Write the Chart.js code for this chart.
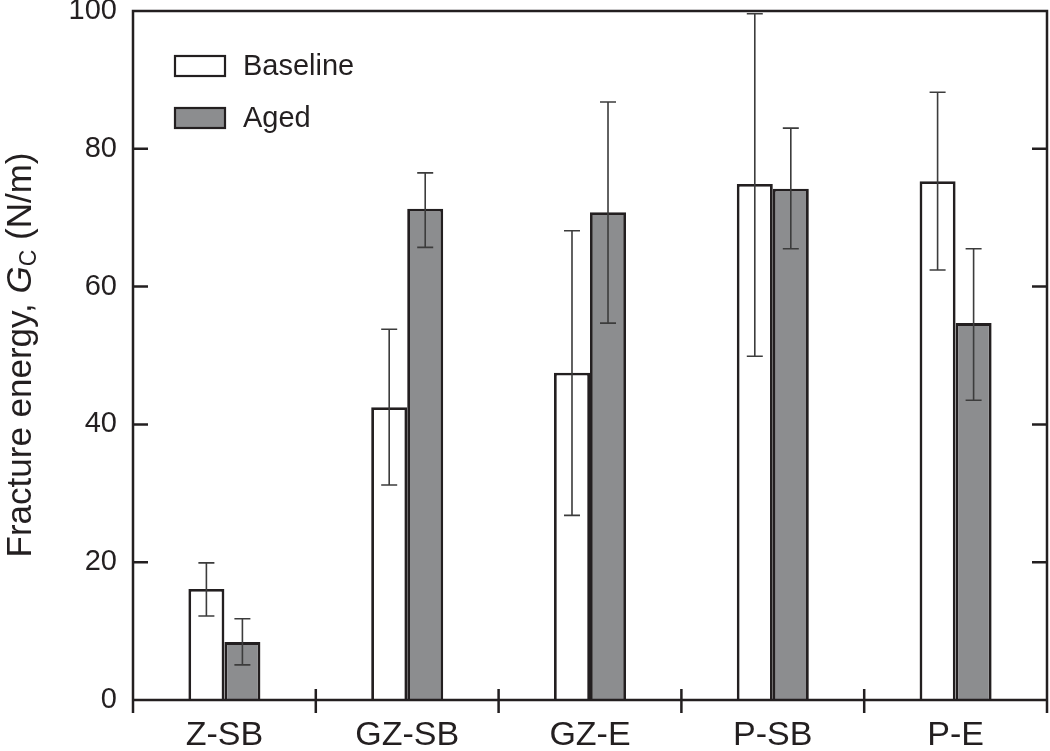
<!DOCTYPE html>
<html>
<head>
<meta charset="utf-8">
<script src="https://cdn.jsdelivr.net/npm/chart.js@4"></script>
<style>
  html, body { margin: 0; padding: 0; background: #fff; }
  #wrap { width: 1050px; height: 751px; }
</style>
</head>
<body>
<div id="wrap"><canvas id="chart" width="1050" height="751"></canvas></div>
<script>
// Data
const categories = ['Z-SB', 'GZ-SB', 'GZ-E', 'P-SB', 'P-E'];
const baseline = [16.1, 42.5, 47.5, 74.9, 75.3];
const baselineLow = [12.2, 31.2, 26.8, 49.9, 62.4];
const baselineHigh = [19.9, 53.8, 68.1, 99.6, 88.2];
const aged = [8.4, 71.3, 70.8, 74.2, 54.7];
const agedLow = [5.1, 65.7, 54.7, 65.5, 43.5];
const agedHigh = [11.8, 76.5, 86.8, 83.0, 65.5];
const yTicks = [0, 20, 40, 60, 80, 100];

const INK = '#231f20';
const FONT = "'Liberation Sans', Arial, Helvetica, sans-serif";
const errors = [[baselineLow, baselineHigh], [agedLow, agedHigh]];

// Error bars, drawn over the bars
const errorBars = {
    id: 'errorBars',
    afterDatasetsDraw(chart) {
        const ctx = chart.ctx;
        const y = chart.scales.y;
        ctx.save();
        ctx.strokeStyle = '#3c3c3c';
        ctx.lineWidth = 1.6;
        chart.data.datasets.forEach((ds, d) => {
            const meta = chart.getDatasetMeta(d);
            meta.data.forEach((bar, i) => {
                const lo = y.getPixelForValue(errors[d][0][i]);
                const hi = y.getPixelForValue(errors[d][1][i]);
                ctx.beginPath();
                ctx.moveTo(bar.x, lo); ctx.lineTo(bar.x, hi);
                ctx.moveTo(bar.x - 8, lo); ctx.lineTo(bar.x + 8, lo);
                ctx.moveTo(bar.x - 8, hi); ctx.lineTo(bar.x + 8, hi);
                ctx.stroke();
            });
        });
        ctx.restore();
    }
};

// Frame, inward ticks, legend and y title
const decor = {
    id: 'decor',
    afterDraw(chart) {
        const ctx = chart.ctx;
        const a = chart.chartArea;
        const x = chart.scales.x;
        const y = chart.scales.y;
        ctx.save();
        ctx.strokeStyle = INK;
        ctx.lineWidth = 2.5;
        ctx.beginPath();
        ctx.moveTo(a.left, a.bottom + 13); ctx.lineTo(a.left, a.top);
        ctx.lineTo(a.right, a.top); ctx.lineTo(a.right, a.bottom + 13);
        ctx.moveTo(a.left, a.bottom); ctx.lineTo(a.right, a.bottom);
        // category boundary ticks
        for (let i = 1; i < categories.length; i++) {
            const bx = (x.getPixelForValue(i - 1) + x.getPixelForValue(i)) / 2;
            ctx.moveTo(bx, a.bottom - 11); ctx.lineTo(bx, a.bottom + 13);
        }
        // y ticks inside on both sides
        yTicks.slice(1, -1).forEach(v => {
            const py = y.getPixelForValue(v);
            ctx.moveTo(a.left, py); ctx.lineTo(a.left + 15, py);
            ctx.moveTo(a.right, py); ctx.lineTo(a.right - 15, py);
        });
        ctx.stroke();

        // legend
        ctx.font = '29px ' + FONT;
        ctx.textBaseline = 'middle';
        chart.data.datasets.forEach((ds, d) => {
            const cy = 66 + d * 52;
            ctx.fillStyle = ds.backgroundColor;
            ctx.fillRect(175, cy - 10, 50, 20);
            ctx.lineWidth = 2.2;
            ctx.strokeStyle = INK;
            ctx.strokeRect(175, cy - 10, 50, 20);
            ctx.fillStyle = INK;
            ctx.fillText(ds.label, 243, cy + 1);
        });

        // y axis title with italic G and subscript C
        const big = '35px ' + FONT;
        const bigI = 'italic 35px ' + FONT;
        const small = '23px ' + FONT;
        const parts = [
            { t: 'Fracture energy, ', f: big, dy: 0 },
            { t: 'G', f: bigI, dy: 0 },
            { t: 'C', f: small, dy: 5 },
            { t: ' (N/m)', f: big, dy: 0 }
        ];
        let total = 0;
        parts.forEach(p => { ctx.font = p.f; p.w = ctx.measureText(p.t).width; total += p.w; });
        ctx.translate(31, 355);
        ctx.rotate(-Math.PI / 2);
        ctx.textBaseline = 'alphabetic';
        ctx.textAlign = 'left';
        let px = -total / 2;
        parts.forEach(p => {
            ctx.font = p.f;
            ctx.fillText(p.t, px, p.dy);
            px += p.w;
        });
        ctx.restore();
    }
};

new Chart(document.getElementById('chart'), {
    type: 'bar',
    data: {
        labels: categories,
        datasets: [
            { label: 'Baseline', data: baseline, backgroundColor: '#ffffff', borderColor: INK, borderWidth: 2.8 },
            { label: 'Aged', data: aged, backgroundColor: '#8c8d8f', borderColor: INK, borderWidth: 2.8 }
        ]
    },
    options: {
        responsive: false,
        animation: false,
        devicePixelRatio: 1,
        layout: { autoPadding: false, padding: { top: 11, right: 3, left: 0, bottom: 0 } },
        datasets: { bar: { categoryPercentage: 0.394, barPercentage: 1 } },
        plugins: { legend: { display: false }, tooltip: { enabled: false } },
        scales: {
            x: {
                grid: { display: false, drawTicks: false },
                border: { display: false },
                ticks: { color: INK, padding: 15, font: { family: FONT, size: 34 } },
                afterFit(s) { s.height = 51; s.paddingLeft = 0; s.paddingRight = 0; }
            },
            y: {
                min: 0,
                max: 100,
                grid: { display: false, drawTicks: false },
                border: { display: false },
                ticks: {
                    stepSize: 20,
                    color: INK,
                    padding: 16,
                    font: { family: FONT, size: 29, lineHeight: 0.7 }
                },
                afterFit(s) { s.width = 133; s.paddingTop = 0; s.paddingBottom = 0; }
            }
        }
    },
    plugins: [errorBars, decor]
});
</script>
</body>
</html>
